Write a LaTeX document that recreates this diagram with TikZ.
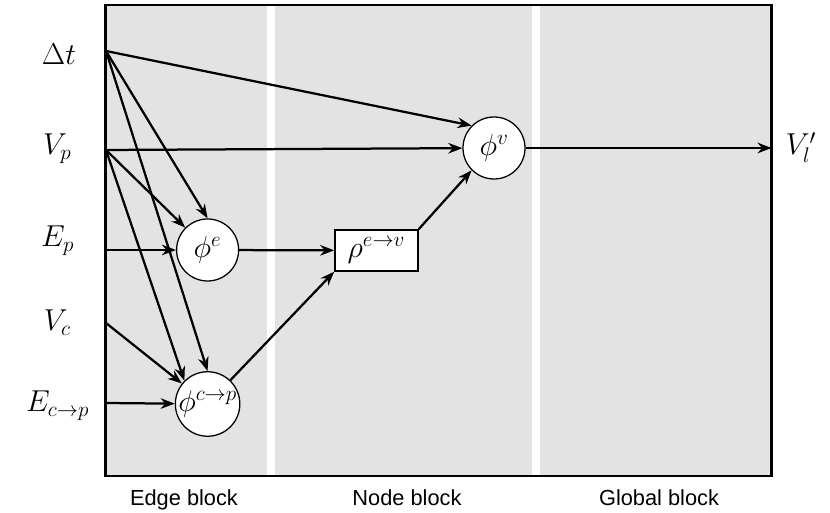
\RequirePackage{fix-cm}
\documentclass[tikz,border=0pt]{standalone}
\usepackage{fontspec}
\newfontfamily\blockfont{Liberation Sans}
\usetikzlibrary{shapes,backgrounds,calc,arrows.meta}

\tikzset{
	func/.style={circle,draw,fill=white,line width=0.9pt,minimum size=1.55cm,inner sep=0pt,font=\fontsize{21.5}{25}\selectfont},
	agg/.style={rectangle,draw,fill=white,line width=1pt,minimum width=2.075cm,minimum height=1.025cm,inner sep=0pt,font=\fontsize{21.5}{25}\selectfont},
	flow/.style={-{Stealth[length=10pt,width=7.5pt]},line width=1.6pt},
	var/.style={anchor=base,font=\fontsize{21.5}{25}\selectfont},
	blocklabel/.style={anchor=base,font=\blockfont\fontsize{15.5}{18}\selectfont}
}

\begin{document}
\begin{tikzpicture}
		\useasboundingbox (0,0) rectangle (20.75,12.825);
		
		\fill[black!11] (2.6375,0.925) rectangle (19.2875,12.7);
		\fill[white] (6.675,0.925) rectangle (6.875,12.7);
		\fill[white] (13.31,0.925) rectangle (13.51,12.7);
		\draw[line width=1.9pt] (2.6375,0.925) rectangle (19.2875,12.7);
		
		
		\node[blocklabel] (edge block) at (4.6,0.1875) {Edge block};
		\node[blocklabel] (node block) at (10.175,0.1875) {Node block};
		\node[blocklabel] (global block) at (16.475,0.1875) {Global block};
		
		
		\node[var] (dt) at (1.475,11.2) {\(\Delta t\)};
		\node[var] (vp) at (1.43,8.95) {\(V_p\)};
		\node[var] (ep) at (1.44,6.65) {\(E_p\)};
		\node[var] (vc) at (1.43,4.55) {\(V_c\)};
		\node[var] (ecp) at (1.44,2.525) {\(E_{c\to p}\)};
		\node[var] (vl) at (20.025,8.95) {\(V_l'\)};
		
		\coordinate (dt in) at (2.65,11.55);
		\coordinate (vp in) at (2.65,9.075);
		\coordinate (ep in) at (2.65,6.575);
		\coordinate (vc in) at (2.65,4.75);
		\coordinate (ecp in) at (2.65,2.75);
		\coordinate (vl out) at (19.29,9.125);
		
		
			\node[func] (phie) at (5.19,6.575) {\(\phi^e\)};
			\node[func] (phicp) at (5.19,2.725) {\(\phi^{c\to p}\)};
		
			\node[agg] (rho) at (9.41,6.5625) {\(\rho^{e\to v}\)};
		
			\node[func] (phiv) at (12.35,9.125) {\(\phi^v\)};
		
		
		\draw[flow] (dt in) -- (phiv.north west);
		\draw[flow] (dt in) -- (phie.north);
		\draw[flow] (dt in) -- (phicp.north);
		
		\draw[flow] (vp in) -- (phiv);
		\draw[flow] (vp in) -- (phie.north west);
		\draw[flow] (vp in) -- (phicp.north west);
		
		\draw[flow] (ep in) -- (phie);
		\draw[flow] (vc in) -- (phicp);
		\draw[flow] (ecp in) -- (phicp);
		
				\draw[flow] (phie) -- (rho);
				\draw[flow] (phicp) -- (rho.south west);
				\draw[flow] (rho.north east) -- (phiv.south west);
		
				\draw[flow] (phiv) -- (vl out);
	
	\end{tikzpicture}
\end{document}
